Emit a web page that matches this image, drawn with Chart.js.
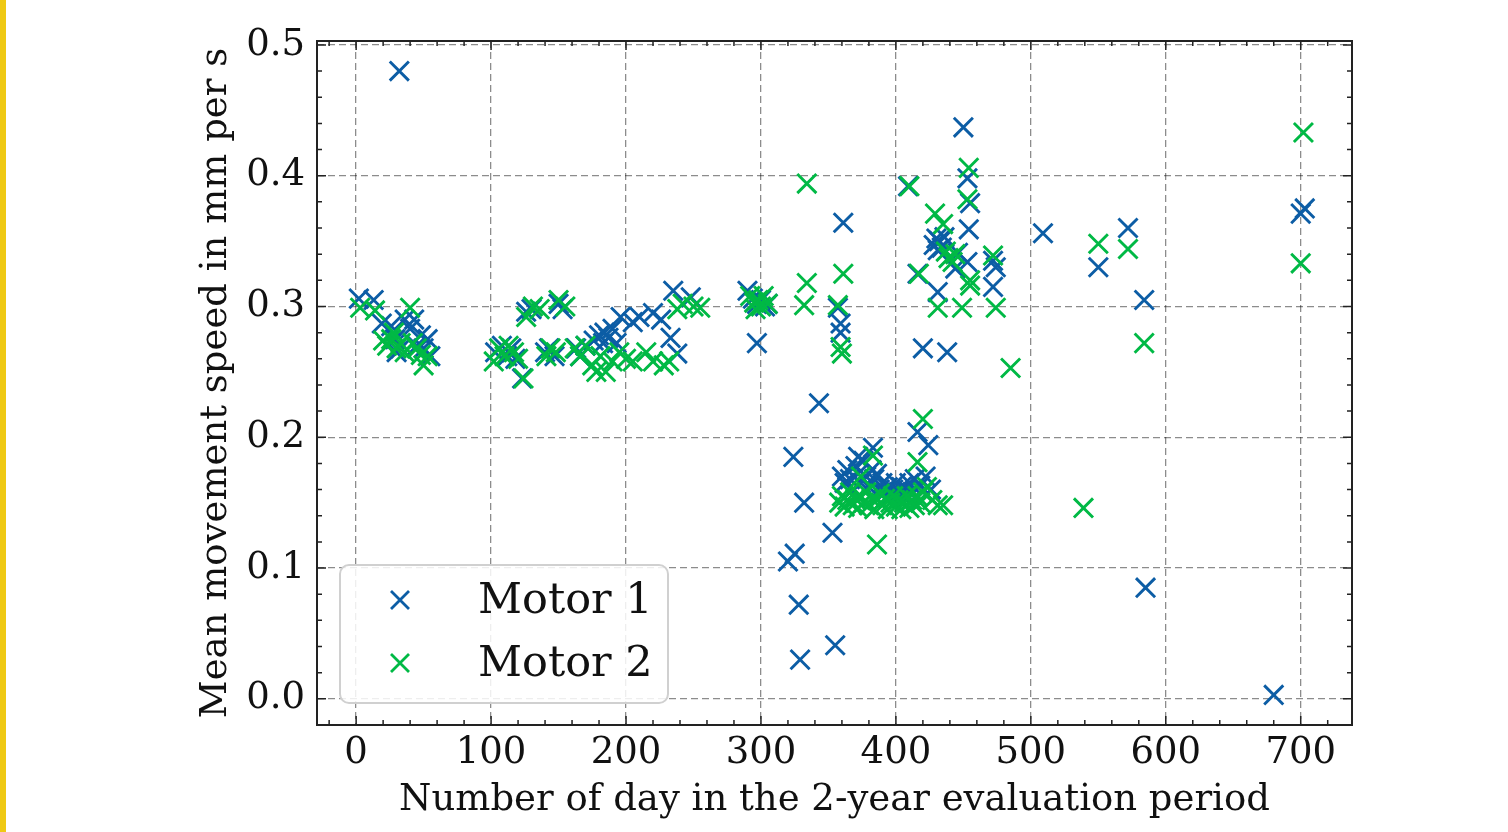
<!DOCTYPE html>
<html>
<head>
<meta charset="utf-8">
<script src="https://cdn.jsdelivr.net/npm/chart.js@4.4.1/dist/chart.umd.min.js"></script>
<style>
html, body { margin: 0; padding: 0; background: #fff; }
#wrap { position: relative; width: 1508px; height: 832px; }
#stripe { position: absolute; left: 0; top: 0; width: 6px; height: 832px; background: #efc914; }
</style>
</head>
<body>
<div id="wrap">
  <canvas id="myChart" width="1508" height="832"></canvas>
  <div id="stripe"></div>
</div>
<script>
// [day, mean speed in mm/s]
const motor1 = [
  [2,0.306],[13,0.305],[19,0.287],[26,0.285],[29,0.275],[30,0.265],[33,0.268],[36,0.29],[40,0.283],
  [43,0.29],[45,0.27],[48,0.278],[50,0.268],[53,0.275],[55,0.262],[32,0.48],
  [103,0.265],[108,0.27],[112,0.262],[115,0.268],[118,0.26],[123,0.245],[126,0.296],[130,0.298],
  [140,0.265],[143,0.268],[147,0.262],[150,0.302],[153,0.298],[163,0.268],[166,0.262],[170,0.27],
  [176,0.274],[180,0.278],[183,0.272],[184,0.28],[187,0.276],[190,0.283],[193,0.272],[196,0.292],
  [205,0.288],[210,0.292],[220,0.295],[226,0.29],[233,0.276],[235,0.312],[238,0.264],[248,0.307],
  [290,0.312],[294,0.306],[297,0.302],[300,0.305],[303,0.3],[297,0.272],[305,0.302],
  [324,0.185],[320,0.105],[325,0.111],[328,0.072],[329,0.03],[332,0.15],[343,0.226],[353,0.127],
  [355,0.041],[357,0.299],[359,0.287],[359,0.28],[361,0.364],
  [360,0.17],[362,0.165],[364,0.175],[366,0.168],[368,0.16],[370,0.178],[372,0.172],[374,0.165],
  [376,0.182],[378,0.17],[380,0.162],[382,0.175],[384,0.168],[386,0.172],[388,0.16],[390,0.165],
  [392,0.158],[394,0.162],[396,0.155],[398,0.16],[400,0.165],[402,0.158],[404,0.162],[406,0.155],
  [408,0.16],[410,0.165],[412,0.158],[414,0.168],[418,0.163],[422,0.17],[426,0.16],[383,0.192],
  [416,0.204],[424,0.194],[372,0.185],
  [409,0.392],[450,0.437],[453,0.398],[455,0.379],[454,0.359],[428,0.347],[430,0.352],[432,0.35],
  [434,0.345],[436,0.353],[431,0.343],[446,0.341],[453,0.334],[444,0.329],[416,0.325],[431,0.311],
  [472,0.335],[474,0.33],[472,0.315],[420,0.268],[438,0.265],[509,0.356],
  [550,0.33],[572,0.36],[584,0.305],[585,0.085],[680,0.003],[700,0.371],[703,0.375]
];
const motor2 = [
  [3,0.299],[14,0.297],[20,0.274],[23,0.27],[26,0.275],[28,0.28],[30,0.268],[33,0.272],[36,0.265],
  [40,0.299],[42,0.272],[45,0.268],[48,0.263],[50,0.255],[53,0.262],
  [102,0.258],[106,0.268],[110,0.262],[113,0.27],[117,0.265],[120,0.26],[124,0.245],[126,0.292],
  [131,0.3],[136,0.298],[141,0.262],[144,0.268],[148,0.265],[150,0.305],[155,0.3],[162,0.268],
  [166,0.262],[170,0.27],[175,0.255],[178,0.25],[181,0.262],[185,0.25],[190,0.258],[195,0.265],
  [200,0.26],[205,0.258],[215,0.265],[220,0.258],[228,0.255],[232,0.258],[238,0.298],[242,0.302],
  [250,0.3],[255,0.299],
  [292,0.308],[295,0.303],[298,0.305],[300,0.3],[302,0.308],[305,0.302],[296,0.298],
  [334,0.394],[334,0.318],[332,0.301],[357,0.301],[361,0.325],[359,0.269],[360,0.264],
  [358,0.15],[360,0.155],[362,0.147],[364,0.152],[366,0.158],[368,0.148],[370,0.153],[372,0.146],
  [374,0.155],[376,0.15],[378,0.158],[380,0.148],[382,0.153],[384,0.145],[386,0.152],[388,0.157],
  [390,0.148],[392,0.153],[394,0.145],[396,0.15],[398,0.155],[400,0.147],[402,0.152],[404,0.145],
  [406,0.15],[408,0.155],[410,0.146],[412,0.152],[414,0.148],[416,0.155],[418,0.15],[420,0.158],
  [423,0.162],[427,0.152],[431,0.148],[435,0.148],[374,0.17],[386,0.118],[383,0.186],[420,0.214],
  [416,0.181],
  [410,0.392],[454,0.406],[453,0.382],[429,0.371],[435,0.363],[439,0.337],[442,0.334],[444,0.34],
  [437,0.342],[417,0.325],[455,0.32],[455,0.316],[431,0.299],[449,0.299],[472,0.339],[474,0.299],
  [485,0.253],
  [539,0.146],[550,0.348],[572,0.344],[584,0.272],[700,0.333],[702,0.433]
];

const seriesNames = ['Motor 1', 'Motor 2'];
const seriesColors = ['#0C5DA5', '#00B945'];
const xTicks = [0, 100, 200, 300, 400, 500, 600, 700];
const yTicks = [0.0, 0.1, 0.2, 0.3, 0.4, 0.5];
const xRange = [-29, 738];
const yRange = [-0.02, 0.503];

const font = 'DejaVu Serif';

const toXY = arr => arr.map(p => ({x: p[0], y: p[1]}));

// frame with inward major/minor ticks on all four sides, matplotlib style
const frameTicks = {
  id: 'frameTicks',
  afterDatasetsDraw(chart) {
    const {ctx, chartArea: a, scales: {x, y}} = chart;
    ctx.save();
    ctx.strokeStyle = '#222';
    ctx.lineWidth = 1.5;
    const tick = (px, py, dx, dy) => { ctx.moveTo(px, py); ctx.lineTo(px + dx, py + dy); };
    ctx.beginPath();
    for (let v = -20; v <= xRange[1]; v += 20) {
      const px = x.getPixelForValue(v);
      if (px < a.left || px > a.right) continue;
      const len = v % 100 === 0 ? 9 : 5;
      tick(px, a.bottom, 0, -len);
      tick(px, a.top, 0, len);
    }
    for (let i = -1; i <= 25; i++) {
      const v = i * 0.02;
      const py = y.getPixelForValue(v);
      if (py < a.top || py > a.bottom) continue;
      const len = i % 5 === 0 ? 9 : 5;
      tick(a.left, py, len, 0);
      tick(a.right, py, -len, 0);
    }
    ctx.stroke();
    ctx.lineWidth = 2;
    ctx.strokeRect(a.left, a.top, a.right - a.left, a.bottom - a.top);
    ctx.restore();
  },
  afterDraw(chart) {
    const {ctx, chartArea: a} = chart;
    const bx = a.left + 23, by = a.bottom - 160, bw = 328, bh = 138;
    ctx.save();
    ctx.beginPath();
    ctx.roundRect(bx, by, bw, bh, 9);
    ctx.fillStyle = 'rgba(255,255,255,0.85)';
    ctx.fill();
    ctx.strokeStyle = '#d0d0d0';
    ctx.lineWidth = 2;
    ctx.stroke();
    chart.data.datasets.forEach((ds, i) => {
      const cy = by + 35 + i * 63;
      const cx = bx + 60;
      ctx.beginPath();
      ctx.strokeStyle = ds.borderColor;
      ctx.lineWidth = 2.8;
      ctx.moveTo(cx - 9, cy - 9); ctx.lineTo(cx + 9, cy + 9);
      ctx.moveTo(cx - 9, cy + 9); ctx.lineTo(cx + 9, cy - 9);
      ctx.stroke();
      ctx.fillStyle = '#111';
      ctx.font = '43px "' + font + '"';
      ctx.textBaseline = 'middle';
      ctx.fillText(ds.label, bx + 138, cy + 2);
    });
    ctx.restore();
  }
};

const gridOpts = {color: 'rgba(0,0,0,0.45)', lineWidth: 1.3, drawTicks: false};

new Chart(document.getElementById('myChart'), {
  type: 'scatter',
  data: {
    datasets: [motor1, motor2].map((d, i) => ({
      label: seriesNames[i],
      data: toXY(d),
      borderColor: seriesColors[i],
      backgroundColor: seriesColors[i],
      pointStyle: 'crossRot',
      pointRadius: 13.5,
      pointHoverRadius: 13.5,
      pointBorderWidth: 2.9,
      order: 1 - i
    }))
  },
  options: {
    responsive: false,
    animation: false,
    events: [],
    layout: {padding: {top: 41, right: 156, left: 0, bottom: 0}},
    plugins: {legend: {display: false}, tooltip: {enabled: false}},
    scales: {
      x: {
        type: 'linear',
        min: xRange[0], max: xRange[1],
        afterBuildTicks: s => { s.ticks = xTicks.map(v => ({value: v})); },
        afterFit: s => { s.height = 107; },
        grid: gridOpts,
        border: {display: false, dash: [7, 4]},
        ticks: {color: '#111', font: {family: font, size: 37}, padding: 6, maxRotation: 0},
        title: {display: true, text: 'Number of day in the 2-year evaluation period',
                color: '#111', font: {family: font, size: 37}, padding: {top: 0, bottom: 9}}
      },
      y: {
        type: 'linear',
        min: yRange[0], max: yRange[1],
        afterBuildTicks: s => { s.ticks = yTicks.map(v => ({value: v})); },
        afterFit: s => { s.width = 317; },
        grid: gridOpts,
        border: {display: false, dash: [7, 4]},
        ticks: {color: '#111', font: {family: font, size: 37}, padding: 12,
                callback: v => v.toFixed(1)},
        title: {display: true, text: 'Mean movement speed in mm per s',
                color: '#111', font: {family: font, size: 37}, padding: {top: 194, bottom: 0}}
      }
    }
  },
  plugins: [frameTicks]
});
</script>
</body>
</html>
